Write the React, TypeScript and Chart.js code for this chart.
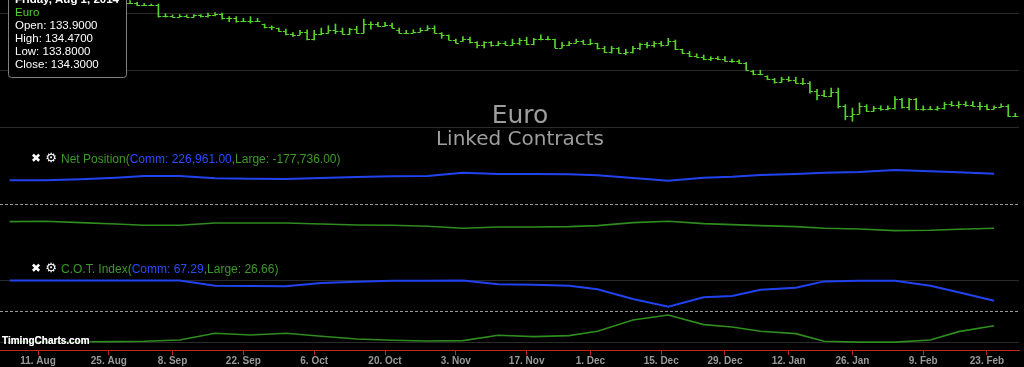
import { useEffect, useRef } from 'react';
import { Chart, registerables } from 'chart.js';

Chart.register(...registerables);

// ---------- Daily OHLC (trading-day index 0 = Fri Aug 1, 2014) ----------
const ohlcOpen = [
  133.90, 134.25, 134.15, 133.80, 133.60, 133.55, 134.10, 133.80, 133.70, 133.60,
  133.85, 133.95, 133.75, 133.30, 132.60, 132.80, 132.40, 131.95, 131.70, 131.80,
  131.85, 131.35, 131.35, 131.50, 129.45, 129.50, 129.35, 129.55, 129.40, 129.60,
  129.55, 129.60, 129.90, 129.10, 129.20, 128.60, 128.55, 128.60, 128.10, 127.60,
  127.40, 126.90, 126.30, 126.25, 126.70, 125.40, 126.30, 126.50, 127.10, 126.85,
  126.35, 127.30, 126.55, 128.10, 128.05, 127.70, 128.00, 127.10, 126.55, 126.55,
  126.70, 127.00, 127.40, 126.60, 126.15, 125.30, 125.05, 125.40, 124.90, 124.50,
  124.90, 124.40, 124.80, 124.50, 124.75, 125.25, 124.65, 125.40, 125.45, 125.40,
  123.95, 124.40, 124.75, 125.10, 124.65, 124.70, 123.85, 123.15, 123.85, 123.05,
  123.20, 123.95, 124.60, 124.50, 124.70, 124.45, 125.15, 123.70, 123.00, 122.45,
  122.40, 121.90, 122.15, 122.00, 121.65, 121.55, 121.20, 119.90, 119.40, 119.05,
  118.45, 117.90, 118.45, 118.30, 117.80, 117.85, 116.35, 115.70, 115.60, 116.15,
  113.70, 112.05, 112.45, 113.85, 112.95, 113.45, 113.25, 113.50, 114.95, 113.55,
  114.95, 113.25, 113.30, 113.25, 113.45, 114.10, 113.95, 114.10, 114.00, 113.85,
  113.80, 113.30, 113.60, 113.80, 112.05,
];
const ohlcHigh = [
  134.47, 134.40, 134.20, 133.90, 133.80, 134.20, 134.15, 134.00, 134.00, 134.00,
  134.30, 134.05, 133.85, 133.35, 132.95, 132.90, 132.50, 132.10, 131.95, 132.20,
  131.90, 131.70, 131.60, 131.60, 129.90, 129.70, 129.75, 129.70, 129.75, 129.75,
  130.00, 130.10, 130.00, 129.40, 129.40, 129.10, 129.40, 129.10, 128.10, 127.80,
  127.40, 127.20, 126.60, 127.00, 127.10, 127.00, 127.40, 127.80, 128.10, 127.40,
  127.35, 127.70, 128.95, 128.50, 128.40, 128.40, 128.25, 127.40, 127.00, 127.10,
  127.40, 127.80, 127.80, 126.60, 126.20, 125.45, 125.90, 125.80, 125.05, 125.05,
  125.05, 125.05, 125.05, 125.45, 125.60, 125.80, 125.60, 126.20, 125.90, 125.45,
  124.90, 125.05, 125.45, 125.30, 125.45, 124.75, 124.20, 124.20, 124.00, 123.70,
  124.20, 124.75, 124.90, 125.05, 125.05, 125.60, 125.30, 123.70, 123.30, 122.90,
  122.70, 122.40, 122.40, 122.40, 121.95, 121.85, 121.40, 120.00, 120.00, 119.05,
  118.60, 118.80, 118.90, 118.80, 118.60, 118.05, 116.70, 116.50, 116.90, 116.90,
  114.00, 113.40, 114.30, 114.00, 113.70, 113.80, 113.80, 115.40, 115.10, 115.10,
  115.10, 113.80, 113.70, 113.70, 114.40, 114.55, 114.55, 114.55, 114.55, 114.40,
  114.00, 113.80, 114.15, 114.00, 112.50,
];
const ohlcLow = [
  133.80, 133.95, 133.70, 133.35, 133.30, 133.40, 133.65, 133.50, 133.50, 133.40,
  133.75, 133.65, 133.20, 132.50, 132.50, 132.10, 131.80, 131.60, 131.55, 131.75,
  131.30, 131.30, 131.30, 129.30, 129.30, 129.30, 129.30, 129.30, 129.30, 129.30,
  129.30, 129.50, 128.95, 128.50, 128.40, 128.50, 128.25, 128.50, 127.40, 127.10,
  126.80, 126.20, 125.90, 126.20, 125.30, 125.30, 126.20, 126.50, 126.40, 126.30,
  126.30, 126.50, 126.50, 127.20, 127.70, 127.70, 127.40, 126.50, 126.40, 126.55,
  126.70, 126.95, 126.50, 125.60, 125.30, 124.75, 125.05, 124.75, 123.90, 123.90,
  124.20, 124.30, 124.45, 124.30, 124.45, 124.45, 124.45, 125.30, 125.30, 123.90,
  123.90, 124.30, 124.75, 124.60, 124.45, 123.70, 123.10, 123.00, 123.00, 122.70,
  123.00, 123.60, 123.90, 124.05, 124.20, 124.45, 123.60, 122.90, 122.40, 122.30,
  121.85, 121.70, 121.85, 121.55, 121.40, 121.15, 120.00, 119.20, 119.20, 118.35,
  117.75, 117.90, 118.05, 117.75, 117.50, 116.00, 114.85, 115.40, 115.40, 113.40,
  111.35, 111.10, 112.45, 112.80, 112.80, 113.00, 113.10, 113.20, 113.40, 113.10,
  113.10, 113.00, 113.10, 113.00, 113.20, 113.70, 113.40, 113.70, 113.70, 113.10,
  113.10, 113.20, 113.55, 111.90, 111.90,
];
const ohlcClose = [
  134.30, 134.15, 133.80, 133.60, 133.55, 134.10, 133.80, 133.70, 133.60, 133.85,
  133.95, 133.75, 133.30, 132.60, 132.80, 132.40, 131.95, 131.70, 131.80, 131.85,
  131.35, 131.35, 131.50, 129.45, 129.50, 129.35, 129.55, 129.40, 129.60, 129.55,
  129.60, 129.90, 129.10, 129.20, 128.60, 128.55, 128.60, 128.70, 127.60, 127.50,
  126.90, 126.30, 126.25, 126.70, 125.40, 126.30, 126.50, 127.10, 126.85, 126.30,
  127.30, 126.55, 128.10, 128.05, 127.70, 128.00, 127.45, 126.55, 126.55, 126.70,
  127.00, 127.40, 126.60, 126.15, 125.35, 124.80, 125.40, 124.90, 124.50, 124.90,
  124.40, 124.80, 124.50, 124.75, 125.25, 124.65, 125.40, 125.45, 125.50, 123.95,
  124.40, 124.75, 125.10, 124.65, 124.70, 123.85, 123.15, 123.85, 123.05, 123.20,
  123.95, 124.60, 124.50, 124.70, 124.45, 125.15, 123.70, 123.00, 122.45, 122.40,
  121.90, 122.15, 122.00, 121.65, 121.55, 121.20, 120.05, 119.40, 119.35, 118.45,
  117.90, 118.45, 118.30, 117.80, 117.85, 116.35, 115.70, 115.60, 116.15, 113.70,
  112.05, 112.45, 113.85, 112.95, 113.45, 113.25, 113.50, 114.95, 113.55, 114.95,
  113.25, 113.30, 113.25, 113.45, 114.10, 113.95, 114.10, 114.00, 113.85, 113.80,
  113.30, 113.60, 113.80, 112.05, 111.95,
];

// ---------- Weekly COT data (trading-day index of each Tuesday report) ----------
const cotDay = [2, 7, 12, 17, 21, 26, 31, 36, 41, 46, 51, 56, 61, 66, 71, 76, 81, 85, 90, 95, 100, 104, 108, 113, 117, 122, 127, 132, 136, 141];
const netComm = [177700, 177700, 185100, 197400, 209800, 209800, 192500, 190000, 187600, 195000, 202400, 207300, 209800, 234500, 224600, 224600, 222100, 214700, 195000, 175200, 197400, 204800, 217200, 224600, 234500, 239400, 254200, 244300, 236900, 226961];
const netLarge = [-128300, -125900, -135700, -145600, -155500, -155500, -138200, -138200, -138200, -145600, -153000, -155500, -162900, -177700, -167800, -167800, -165400, -158000, -135700, -125900, -143100, -150500, -158000, -165400, -177700, -182600, -195000, -192500, -185100, -177736];
const cotComm = [100, 100, 100, 100, 100, 100, 91.6, 91.0, 90.5, 95.9, 98.0, 99.7, 99.7, 100, 94.0, 93.2, 91.6, 85.7, 70.0, 57.6, 72.7, 74.9, 85.1, 88.4, 98.6, 99.7, 99.7, 91.6, 80.8, 67.29];
const cotLarge = [0.8, 0.6, 0.6, 0.8, 1.4, 3.5, 14.3, 11.6, 14.3, 9.5, 5.1, 3.0, 1.9, 2.4, 11.1, 8.9, 10.5, 17.6, 35.9, 44.0, 28.4, 24.6, 17.6, 13.8, 1.4, 0, 0, 3.5, 17.0, 26.66];

// ---------- Axis ticks / labels ----------
const tickDay = [6, 16, 25, 35, 45, 55, 65, 75, 84, 94, 103, 112, 121, 131, 140];
const tickLabels = ['11. Aug', '25. Aug', '8. Sep', '22. Sep', '6. Oct', '20. Oct', '3. Nov', '17. Nov', '1. Dec', '15. Dec', '29. Dec', '12. Jan', '26. Jan', '9. Feb', '23. Feb'];
const priceGrid = [110, 120, 130];
const netGrid = [0];
const cotGrid = [0, 50, 100];

const titleText = 'Euro';
const subtitleText = 'Linked Contracts';
const instrumentName = 'Euro';
const tooltipTitle = 'Friday, Aug 1, 2014';
const netName = 'Net Position';
const cotName = 'C.O.T. Index';
const watermark = 'TimingCharts.com';

// ---------- Styles ----------
const BAR_GREEN = '#58d22c';
const LINE_BLUE = '#2143ee';
const LINE_GREEN = '#2f8c1f';
const LEG_BLUE = '#2a4bff';
const LEG_GREEN = '#3c9a2a';
const GRID = '#2a2a2a';
const DASH = '#9a9a9a';
const RED = '#c4281c';
const SANS = '"Liberation Sans", Arial, sans-serif';
const DEJAVU = '"DejaVu Sans", sans-serif';

export default function App() {
  const canvasRef = useRef<HTMLCanvasElement | null>(null);

  useEffect(() => {
    const canvas = canvasRef.current;
    if (!canvas) return;

    const fmt2 = (v: number) =>
      v.toLocaleString('en-US', { minimumFractionDigits: 2, maximumFractionDigits: 2 });

    const drawLegend = (ctx: CanvasRenderingContext2D, cy: number, base: number, name: string, comm: string, large: string) => {
      ctx.save();
      ctx.fillStyle = '#ffffff';
      ctx.textAlign = 'center';
      ctx.textBaseline = 'middle';
      ctx.font = `bold 12px ${DEJAVU}`;
      ctx.fillText('✖', 36, cy);
      ctx.font = `bold 13px ${DEJAVU}`;
      ctx.fillText('⚙', 51, cy);
      ctx.textAlign = 'left';
      ctx.textBaseline = 'alphabetic';
      ctx.font = `12px ${SANS}`;
      let x = 61;
      const parts: [string, string][] = [
        [name + '(', LEG_GREEN],
        ['Comm: ' + comm, LEG_BLUE],
        [',Large: ' + large + ')', LEG_GREEN],
      ];
      for (const [t, c] of parts) {
        ctx.fillStyle = c;
        ctx.fillText(t, x, base);
        x += ctx.measureText(t).width;
      }
      ctx.restore();
    };

    const overlay = {
      id: 'overlay',
      beforeDraw(chart: any) {
        const ctx = chart.ctx;
        ctx.save();
        ctx.fillStyle = '#000';
        ctx.fillRect(0, 0, chart.width, chart.height);
        ctx.restore();
      },
      afterDatasetsDraw(chart: any) {
        const ctx = chart.ctx;
        const xs = chart.scales.x;
        const ys = chart.scales.yPrice;
        const a = chart.chartArea;
        ctx.save();
        ctx.beginPath();
        ctx.rect(a.left, a.top, a.right - a.left, a.bottom - a.top);
        ctx.clip();
        ctx.strokeStyle = BAR_GREEN;
        ctx.lineWidth = 1;
        ctx.beginPath();
        for (let i = 0; i < ohlcOpen.length; i++) {
          const px = xs.getPixelForValue(i);
          const yo = Math.round(ys.getPixelForValue(ohlcOpen[i])) + 0.5;
          const yc = Math.round(ys.getPixelForValue(ohlcClose[i])) + 0.5;
          ctx.moveTo(px - 3, yo);
          ctx.lineTo(px, yo);
          ctx.moveTo(px, yc);
          ctx.lineTo(px + 3, yc);
        }
        ctx.stroke();
        ctx.restore();
      },
      afterDraw(chart: any) {
        const ctx = chart.ctx as CanvasRenderingContext2D;
        ctx.save();
        // Title
        ctx.fillStyle = '#9e9e9e';
        ctx.textAlign = 'center';
        ctx.textBaseline = 'alphabetic';
        ctx.font = `25px ${DEJAVU}`;
        ctx.fillText(titleText, 520, 123);
        ctx.font = `20px ${DEJAVU}`;
        ctx.fillText(subtitleText, 520, 145);
        ctx.restore();

        // Legends
        const n = netComm.length - 1;
        drawLegend(ctx, 159, 163, netName, fmt2(netComm[n]), fmt2(netLarge[n]));
        drawLegend(ctx, 268.5, 272.5, cotName, cotComm[n].toFixed(2), cotLarge[n].toFixed(2));

        // Watermark
        ctx.save();
        ctx.font = `bold 10px ${SANS}`;
        ctx.textAlign = 'left';
        ctx.textBaseline = 'alphabetic';
        ctx.shadowColor = 'rgba(0,0,0,0.9)';
        ctx.shadowBlur = 3;
        ctx.fillStyle = '#ffffff';
        ctx.fillText(watermark, 2, 344);
        ctx.fillText(watermark, 2, 344);
        ctx.restore();

        // Tooltip box (hovered bar at index 0)
        ctx.save();
        ctx.beginPath();
        const L = 8.5, R = 126.5, T = -12, B = 77.5, r = 3;
        ctx.moveTo(L + r, T);
        ctx.lineTo(R - r, T);
        ctx.arcTo(R, T, R, T + r, r);
        ctx.lineTo(R, B - r);
        ctx.arcTo(R, B, R - r, B, r);
        ctx.lineTo(L + r, B);
        ctx.arcTo(L, B, L, B - r, r);
        ctx.lineTo(L, T + r);
        ctx.arcTo(L, T, L + r, T, r);
        ctx.closePath();
        ctx.shadowColor = 'rgba(0,0,0,0.6)';
        ctx.shadowBlur = 3;
        ctx.shadowOffsetY = 1;
        ctx.fillStyle = 'rgba(0,0,0,0.92)';
        ctx.fill();
        ctx.shadowColor = 'transparent';
        ctx.strokeStyle = '#808080';
        ctx.lineWidth = 1;
        ctx.stroke();
        ctx.textAlign = 'left';
        ctx.textBaseline = 'alphabetic';
        ctx.font = `bold 11.5px ${SANS}`;
        ctx.fillStyle = '#ffffff';
        ctx.fillText(tooltipTitle, 15, 3);
        ctx.font = `11.5px ${SANS}`;
        ctx.fillStyle = '#4fcf2f';
        ctx.fillText(instrumentName, 15, 16);
        ctx.fillStyle = '#ffffff';
        ctx.fillText('Open: ' + ohlcOpen[0].toFixed(4), 15, 29);
        ctx.fillText('High: ' + ohlcHigh[0].toFixed(4), 15, 42);
        ctx.fillText('Low: ' + ohlcLow[0].toFixed(4), 15, 55);
        ctx.fillText('Close: ' + ohlcClose[0].toFixed(4), 15, 68);
        ctx.restore();
      },
    };

    const hiddenY = (min: number, max: number, grid: number[], dashed: number | null) => ({
      type: 'linear' as const,
      position: 'left' as const,
      min,
      max,
      display: true,
      ticks: { display: false },
      border: {
        display: false,
        dash: (c: any) => (c && c.tick && dashed !== null && c.tick.value === dashed ? [3, 2] : []),
      },
      grid: {
        drawTicks: false,
        lineWidth: 1,
        color: (c: any) => (c && c.tick && dashed !== null && c.tick.value === dashed ? DASH : GRID),
      },
      afterBuildTicks: (s: any) => {
        s.ticks = grid.map((v) => ({ value: v }));
      },
      afterFit: (s: any) => {
        s.width = 0;
      },
    });

    const chart = new Chart(canvas, {
      type: 'line',
      data: {
        datasets: [
          {
            type: 'bar',
            label: instrumentName,
            data: ohlcHigh.map((h, i) => ({ x: i, y: [ohlcLow[i], h] })) as any,
            xAxisID: 'x',
            yAxisID: 'yPrice',
            backgroundColor: BAR_GREEN,
            borderWidth: 0,
            barThickness: 1,
            grouped: false,
          } as any,
          {
            type: 'line',
            label: 'Net Comm',
            data: cotDay.map((d, i) => ({ x: d, y: netComm[i] })),
            xAxisID: 'x',
            yAxisID: 'yNet',
            borderColor: LINE_BLUE,
            borderWidth: 2,
            pointRadius: 0,
            tension: 0,
          },
          {
            type: 'line',
            label: 'Net Large',
            data: cotDay.map((d, i) => ({ x: d, y: netLarge[i] })),
            xAxisID: 'x',
            yAxisID: 'yNet',
            borderColor: LINE_GREEN,
            borderWidth: 1.6,
            pointRadius: 0,
            tension: 0,
          },
          {
            type: 'line',
            label: 'COT Comm',
            data: cotDay.map((d, i) => ({ x: d, y: cotComm[i] })),
            xAxisID: 'x',
            yAxisID: 'yCot',
            borderColor: LINE_BLUE,
            borderWidth: 2,
            pointRadius: 0,
            tension: 0,
          },
          {
            type: 'line',
            label: 'COT Large',
            data: cotDay.map((d, i) => ({ x: d, y: cotLarge[i] })),
            xAxisID: 'x',
            yAxisID: 'yCot',
            borderColor: LINE_GREEN,
            borderWidth: 1.6,
            pointRadius: 0,
            tension: 0,
          },
        ],
      },
      options: {
        animation: false,
        responsive: false,
        maintainAspectRatio: false,
        devicePixelRatio: 1,
        events: [],
        layout: { padding: { left: 0, right: 5, top: 0, bottom: 0 } },
        plugins: {
          legend: { display: false },
          tooltip: { enabled: false },
          title: { display: false },
        },
        scales: {
          x: {
            type: 'linear',
            position: 'bottom',
            min: 0.634,
            max: 144.52,
            offset: false,
            grid: {
              display: true,
              drawOnChartArea: false,
              drawTicks: true,
              tickLength: 5,
              tickColor: RED,
              color: RED,
              offset: false,
            },
            border: { display: true, color: RED, width: 1 },
            ticks: {
              autoSkip: false,
              maxRotation: 0,
              minRotation: 0,
              padding: 0,
              color: '#999999',
              font: { family: SANS, size: 10, weight: 'bold' },
              callback: (_v: any, i: number) => tickLabels[i] ?? '',
            },
            afterBuildTicks: (s: any) => {
              s.ticks = tickDay.map((v) => ({ value: v }));
            },
            afterFit: (s: any) => {
              s.height = 17;
            },
          } as any,
          yPrice: hiddenY(71.1, 132.3, priceGrid, null) as any,
          yNet: hiddenY(-1079600, 1513900, netGrid, 0) as any,
          yCot: hiddenY(-12.8, 555.4, cotGrid, 50) as any,
        },
      },
      plugins: [overlay],
    });

    return () => chart.destroy();
  }, []);

  return (
    <div
      style={{
        position: 'fixed',
        left: 0,
        top: 0,
        width: 1024,
        height: 367,
        background: '#000',
        overflow: 'hidden',
      }}
    >
      <canvas ref={canvasRef} width={1024} height={367} style={{ display: 'block', width: 1024, height: 367 }} />
    </div>
  );
}
